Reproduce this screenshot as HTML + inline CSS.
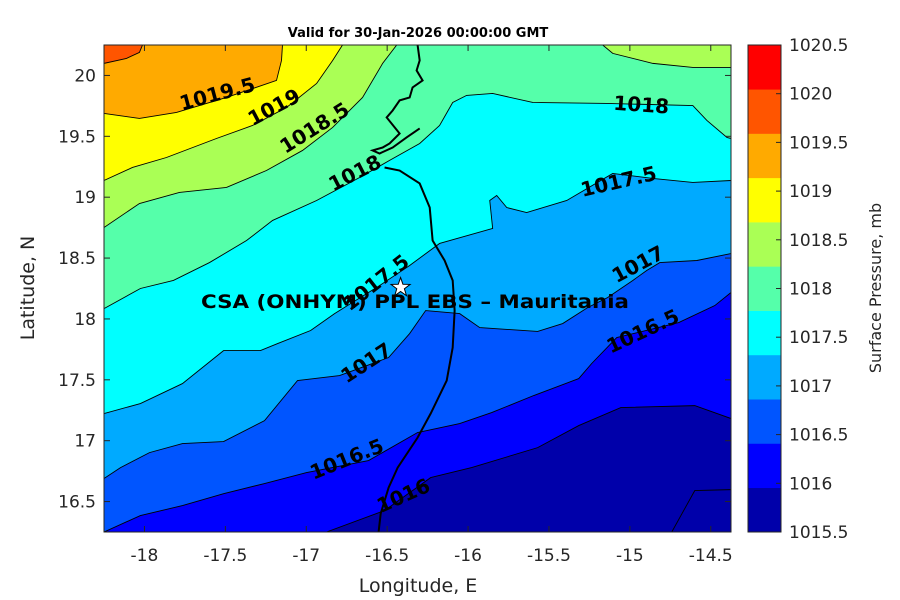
<!DOCTYPE html>
<html><head><meta charset="utf-8"><style>
body{margin:0;background:#fff;}
svg{display:block;font-family:"DejaVu Sans","Liberation Sans",sans-serif;}
</style></head><body>
<svg id="chart" width="900" height="600" viewBox="0 0 900 600"></svg>
<script>
const xlim=[-18.25,-14.375], ylim=[16.25,20.25];
const X0=104,X1=731,Y0=45,Y1=532;
const xTicks=[-18,-17.5,-17,-16.5,-16,-15.5,-15,-14.5];
const yTicks=[16.5,17,17.5,18,18.5,19,19.5,20];
const cbTicks=[1015.5,1016,1016.5,1017,1017.5,1018,1018.5,1019,1019.5,1020,1020.5];
const cbColors=["#0000aa","#0000ff","#0055ff","#00aaff","#00ffff","#55ffaa","#aaff55","#ffff00","#ffaa00","#ff5500","#ff0000"];
// contour lines (lon/lat)
const c1016Lon=[-16.875,-16.516,-16.231,-15.978,-15.570,-15.316,-15.056,-14.599,-14.375];
const c1016Lat=[16.25,16.426,16.697,16.779,16.943,17.124,17.272,17.288,17.182];
const c1016bLon=[-14.741,-14.599,-14.375];
const c1016bLat=[16.25,16.590,16.598];
const c16_5Lon=[-18.25,-18.025,-17.765,-17.511,-17.258,-16.998,-16.615,-16.312,-16.052,-15.854,-15.594,-15.316,-15.236,-15.081,-14.698,-14.475,-14.375];
const c16_5Lat=[16.25,16.385,16.467,16.565,16.648,16.738,16.837,17.067,17.141,17.231,17.371,17.510,17.634,17.847,17.970,18.110,18.217];
const c1017Lon=[-18.25,-18.148,-17.969,-17.765,-17.511,-17.258,-17.054,-16.794,-16.491,-16.361,-16.262,-16.052,-15.928,-15.570,-15.415,-15.260,-15.137,-14.982,-14.896,-14.815,-14.586,-14.375];
const c1017Lat=[16.689,16.779,16.902,16.976,16.993,17.165,17.494,17.535,17.683,17.880,18.069,18.044,17.929,17.897,17.962,18.094,18.176,18.316,18.398,18.463,18.480,18.537];
const c17_5Lon=[-18.25,-18.025,-17.765,-17.511,-17.283,-17.177,-16.973,-16.825,-16.695,-16.547,-16.361,-16.176,-15.848,-15.866,-15.823,-15.761,-15.638,-15.390,-15.106,-14.858,-14.611,-14.375];
const c17_5Lat=[17.223,17.305,17.469,17.740,17.740,17.798,17.905,18.044,18.151,18.274,18.439,18.620,18.743,18.973,19.014,18.915,18.874,18.973,19.195,19.154,19.121,19.137];
const c1018Lon=[-18.25,-18.025,-17.821,-17.598,-17.369,-17.208,-16.936,-16.670,-16.485,-16.299,-16.176,-16.095,-16.009,-15.848,-15.600,-15.143,-14.611,-14.524,-14.400,-14.375];
const c1018Lat=[18.085,18.250,18.316,18.463,18.644,18.809,18.973,19.162,19.302,19.441,19.589,19.778,19.836,19.852,19.778,19.770,19.753,19.630,19.491,19.482];
const c18_5aLon=[-18.25,-18.031,-17.784,-17.493,-17.246,-17.023,-16.837,-16.652,-16.528,-16.441];
const c18_5aLat=[18.751,18.948,19.039,19.080,19.219,19.384,19.573,19.819,20.099,20.25];
const c18_5bLon=[-15.168,-15.106,-14.858,-14.611,-14.375];
const c18_5bLat=[20.25,20.181,20.099,20.066,20.066];
const c1019Lon=[-18.25,-18.074,-17.864,-17.555,-17.332,-17.122,-16.936,-16.837,-16.776];
const c1019Lat=[19.137,19.244,19.326,19.482,19.589,19.737,19.934,20.123,20.25];
const c19_5Lon=[-18.25,-18.031,-17.802,-17.493,-17.184,-17.153,-17.147];
const c19_5Lat=[19.688,19.647,19.696,19.819,19.959,20.123,20.25];
const c1020Lon=[-18.25,-18.111,-18.031,-18.012];
const c1020Lat=[20.099,20.140,20.189,20.25];
const coastLon=[-16.553,-16.540,-16.491,-16.435,-16.312,-16.231,-16.132,-16.095,-16.083,-16.095,-16.145,-16.219,-16.237,-16.299,-16.423,-16.516];
const coastLat=[16.25,16.401,16.615,16.779,17.025,17.223,17.494,17.765,18.069,18.316,18.480,18.644,18.915,19.113,19.219,19.244];
const isleLon=[-16.312,-16.299,-16.318,-16.281,-16.343,-16.361,-16.423,-16.466,-16.503,-16.423,-16.485,-16.528,-16.590,-16.547,-16.466,-16.380,-16.299];
const isleLat=[20.25,20.123,20.041,19.959,19.901,19.819,19.795,19.712,19.655,19.523,19.441,19.408,19.384,19.359,19.408,19.491,19.565];
const labels=[["1019.5",-17.55,19.85,-15],["1019",-17.2,19.74,-28],["1018.5",-16.95,19.57,-32],["1018",-16.7,19.2,-27],["1018",-14.93,19.76,4],["1017.5",-15.07,19.13,-13],["1017.5",-16.57,18.3,-38],["1017",-14.95,18.45,-28],["1017",-16.63,17.64,-33],["1016.5",-14.92,17.9,-25],["1016.5",-16.75,16.85,-22],["1016",-16.4,16.55,-24]];
const siteLon=-16.417, siteLat=18.258;

const NS="http://www.w3.org/2000/svg";
const svg=document.getElementById('chart');
const sx=v=>X0+(v-xlim[0])/(xlim[1]-xlim[0])*(X1-X0);
const sy=v=>Y1-(v-ylim[0])/(ylim[1]-ylim[0])*(Y1-Y0);
function mk(tag,attrs,parent){const e=document.createElementNS(NS,tag);for(const k in attrs)e.setAttribute(k,attrs[k]);(parent||svg).appendChild(e);return e;}
function pts(lo,la){return lo.map((v,i)=>[sx(v),sy(la[i])]);}

const clipDef=mk('defs',{});
const cp=mk('clipPath',{id:'axclip'},clipDef);
mk('rect',{x:X0,y:Y0,width:X1-X0,height:Y1-Y0},cp);
const g=mk('g',{'clip-path':'url(#axclip)'});


const bg=mk('rect',{x:X0,y:Y0,width:X1-X0,height:Y1-Y0,fill:cbColors[0]},g);



const contours=[
 [c1016Lon,c1016Lat,1,'1016'],[c16_5Lon,c16_5Lat,2,'1016-5'],[c1017Lon,c1017Lat,3,'1017'],
 [c17_5Lon,c17_5Lat,4,'1017-5'],[c1018Lon,c1018Lat,5,'1018'],[c18_5aLon,c18_5aLat,6,'1018-5-west'],
 [c18_5bLon,c18_5bLat,6,'1018-5-east'],[c1019Lon,c1019Lat,7,'1019'],[c19_5Lon,c19_5Lat,8,'1019-5'],[c1020Lon,c1020Lat,9,'1020']];
contours.forEach(c=>{
 const p=pts(c[0],c[1]);
 const endLon=c[0][c[0].length-1], startLon=c[0][0], startLat=c[1][0];
 if(endLon===xlim[1]) p.push([sx(xlim[1]),sy(ylim[1])]);
 if(c[3]!=='1018-5-east') p.push([sx(xlim[0]),sy(ylim[1])]);
 if(startLat===ylim[0]&&startLon!==xlim[0]) p.push([sx(xlim[0]),sy(ylim[0])]);
 const poly=mk('polygon',{points:p.map(q=>q.join(',')).join(' '),fill:cbColors[c[2]]},g);
 
 
});
contours.concat([[c1016bLon,c1016bLat,0,'1016-inner']]).forEach(c=>{
 const l=mk('polyline',{points:pts(c[0],c[1]).map(q=>q.join(',')).join(' '),fill:'none',stroke:'#000','stroke-width':0.9},g);
 
 
});
const coast=mk('polyline',{points:pts(coastLon,coastLat).map(q=>q.join(',')).join(' '),fill:'none',stroke:'#000','stroke-width':2},g);


const isle=mk('polyline',{points:pts(isleLon,isleLat).map(q=>q.join(',')).join(' '),fill:'none',stroke:'#000','stroke-width':2},g);



labels.forEach(L=>{
 const t=mk('text',{x:sx(L[1]),y:sy(L[2]),'font-size':20,'font-weight':'bold','text-anchor':'middle','dominant-baseline':'central',transform:`rotate(${L[3]} ${sx(L[1])} ${sy(L[2])})`},g);
 t.textContent=L[0];
 
 
});
// star
(function(){const cx=sx(siteLon),cy=sy(siteLat);let s=[];for(let i=0;i<10;i++){const r=i%2?4:10,a=-Math.PI/2+i*Math.PI/5;s.push([cx+r*Math.cos(a),cy+r*Math.sin(a)]);}
 const st=mk('polygon',{points:s.map(q=>q.join(',')).join(' '),fill:'#fff',stroke:'#000','stroke-width':1});
 
 })();
const site=mk('text',{x:415,y:308,'font-size':19,'font-weight':'bold','text-anchor':'middle',textLength:428,lengthAdjust:'spacingAndGlyphs'});
site.textContent='CSA (ONHYM) PPL EBS  – Mauritania';



// axes box and ticks
const box=mk('rect',{x:X0,y:Y0,width:X1-X0,height:Y1-Y0,fill:'none',stroke:'#262626','stroke-width':1});


xTicks.forEach(v=>{const x=sx(v);
 mk('line',{x1:x,y1:Y1,x2:x,y2:Y1-6,stroke:'#262626'});mk('line',{x1:x,y1:Y0,x2:x,y2:Y0+6,stroke:'#262626'});
 const t=mk('text',{x:x,y:561,'font-size':17,fill:'#262626','text-anchor':'middle'});t.textContent=v;
 
 });
yTicks.forEach(v=>{const y=sy(v);
 mk('line',{x1:X0,y1:y,x2:X0+6,y2:y,stroke:'#262626'});mk('line',{x1:X1,y1:y,x2:X1-6,y2:y,stroke:'#262626'});
 const t=mk('text',{x:96,y:y+6,'font-size':17,fill:'#262626','text-anchor':'end'});t.textContent=v;
 
 });
const xt=mk('text',{x:418,y:592,'font-size':19,fill:'#262626','text-anchor':'middle'});xt.textContent='Longitude, E';


const yt=mk('text',{x:34,y:288,'font-size':19,fill:'#262626','text-anchor':'middle',transform:'rotate(-90 34 288)'});yt.textContent='Latitude, N';


const tt=mk('text',{x:418,y:37,'font-size':13,'font-weight':'bold','text-anchor':'middle'});tt.textContent='Valid for 30-Jan-2026 00:00:00 GMT';



// colorbar
const CB0=748,CB1=781,n=cbColors.length,bh=(Y1-Y0)/n;
cbColors.forEach((c,i)=>{const r=mk('rect',{x:CB0,y:Y1-(i+1)*bh,width:CB1-CB0,height:bh+0.3,fill:c});
 
 });
const cbb=mk('rect',{x:CB0,y:Y0,width:CB1-CB0,height:Y1-Y0,fill:'none',stroke:'#262626'});


const cy=v=>Y1-(v-cbTicks[0])/(cbTicks[cbTicks.length-1]-cbTicks[0])*(Y1-Y0);
cbTicks.forEach(v=>{const y=cy(v);
 mk('line',{x1:CB1,y1:y,x2:CB1-5,y2:y,stroke:'#262626'});
 const t=mk('text',{x:789,y:y+6,'font-size':17,fill:'#262626'});t.textContent=v;
 
 });
const ct=mk('text',{x:881,y:288,'font-size':16,fill:'#262626','text-anchor':'middle',transform:'rotate(-90 881 288)'});ct.textContent='Surface Pressure, mb';


</script>
</body></html>
